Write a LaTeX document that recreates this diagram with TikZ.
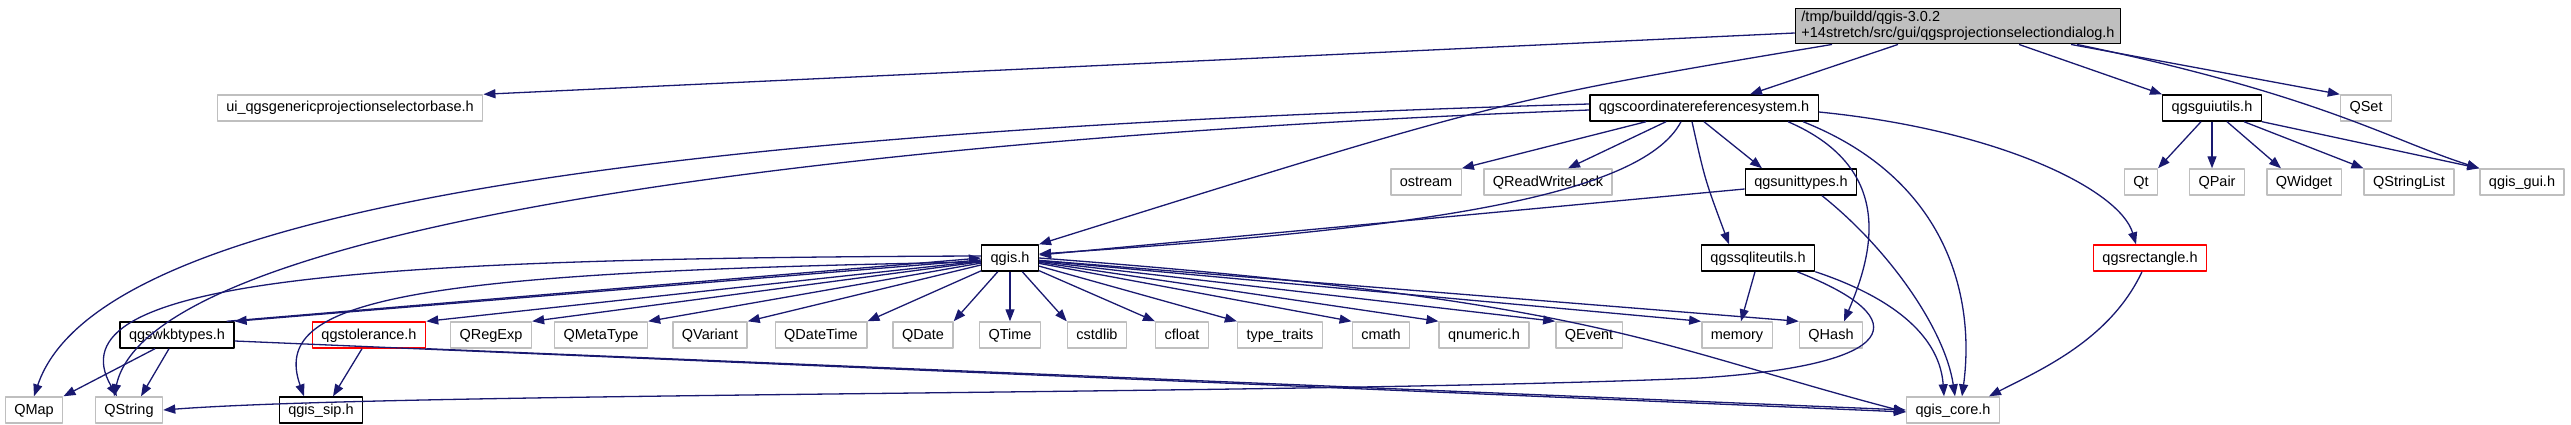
\documentclass[tikz,border=0pt]{standalone}
\usepackage{fontspec}
\setmainfont{Liberation Sans}
\usetikzlibrary{arrows.meta}
\definecolor{edgeblue}{RGB}{25,25,112}
\definecolor{boxgray}{RGB}{191,191,191}

\begin{document}
\begin{tikzpicture}[x=1pt,y=-1pt,line join=round,
  every node/.style={font=\fontsize{14.5}{16}\selectfont,line width=1.4pt},
  box/.style={fill=white,inner sep=0pt,inner xsep=9pt,minimum height=26pt,
    text height=11pt,text depth=3pt},
  hdr/.style={box,draw=boxgray},
  doc/.style={box,draw=black},
  miss/.style={box,draw=red},
  root/.style={draw=black,fill=boxgray,align=left,inner xsep=6pt,inner ysep=3pt},
  dep/.style={draw=edgeblue,line width=1.3pt,-{Triangle[length=12pt,width=9pt]}}]
  % include graph, positions taken from the rendered doxygen output
  \useasboundingbox (0,0) rectangle (2571,425);
  \node[root] (root) at (1958,26) {/tmp/buildd/qgis-3.0.2\\+14stretch/src/gui/qgsprojectionselectiondialog.h};
  \node[hdr] (ui) at (350,108) {ui\_qgsgenericprojectionselectorbase.h};
  \node[doc] (crs) at (1704,108) {qgscoordinatereferencesystem.h};
  \node[doc] (guiutils) at (2212,108) {qgsguiutils.h};
  \node[hdr] (qset) at (2366,108) {QSet};
  \node[hdr] (ostream) at (1426,182) {ostream};
  \node[hdr] (qrwlock) at (1548,182) {QReadWriteLock};
  \node[doc] (unittypes) at (1801,182) {qgsunittypes.h};
  \node[hdr] (qt) at (2141,182) {Qt};
  \node[hdr] (qpair) at (2217,182) {QPair};
  \node[hdr] (qwidget) at (2304,182) {QWidget};
  \node[hdr] (qstrlist) at (2409,182) {QStringList};
  \node[hdr] (qgisgui) at (2522,182) {qgis\_gui.h};
  \node[doc] (qgis) at (1010,258) {qgis.h};
  \node[doc] (sqlite) at (1758,258) {qgssqliteutils.h};
  \node[miss] (rect) at (2150,258) {qgsrectangle.h};
  \node[doc] (wkbtypes) at (177,335) {qgswkbtypes.h};
  \node[miss] (tolerance) at (369,335) {qgstolerance.h};
  \node[hdr] (qregexp) at (491,335) {QRegExp};
  \node[hdr] (qmetatype) at (601,335) {QMetaType};
  \node[hdr] (qvariant) at (710,335) {QVariant};
  \node[hdr] (qdatetime) at (821,335) {QDateTime};
  \node[hdr] (qdate) at (923,335) {QDate};
  \node[hdr] (qtime) at (1010,335) {QTime};
  \node[hdr] (cstdlib) at (1097,335) {cstdlib};
  \node[hdr] (cfloat) at (1182,335) {cfloat};
  \node[hdr] (typetraits) at (1280,335) {type\_traits};
  \node[hdr] (cmath) at (1381,335) {cmath};
  \node[hdr] (qnumeric) at (1484,335) {qnumeric.h};
  \node[hdr] (qevent) at (1589,335) {QEvent};
  \node[hdr] (memory) at (1737,335) {memory};
  \node[hdr] (qhash) at (1831,335) {QHash};
  \node[hdr] (qmap) at (34,410) {QMap};
  \node[hdr] (qstring) at (129,410) {QString};
  \node[doc] (qgissip) at (321,410) {qgis\_sip.h};
  \node[hdr] (qgiscore) at (1953,410) {qgis\_core.h};

  \draw[dep] ([yshift=-7pt]root.west) -- (ui.north east);
  \draw[dep] ([xshift=-126pt]root.south) .. controls (1500,100) .. (qgis.north east);
  \draw[dep] ([xshift=-60pt]root.south) -- ([xshift=46pt]crs.north);
  \draw[dep] ([xshift=61pt]root.south) -- (guiutils.north west);
  \draw[dep] ([xshift=113pt]root.south) -- (qset.north west);
  \draw[dep] ([xshift=119pt]root.south) .. controls (2320,95) and (2390,140) .. (qgisgui.north west);

  \draw[dep] ([yshift=4pt]crs.west) .. controls (700,130) and (100,200) .. (qmap.north);
  \draw[dep] ([yshift=-2pt]crs.west) .. controls (800,140) and (150,230) .. ([xshift=-15pt]qstring.north);
  \draw[dep] ([xshift=-23pt]crs.south) .. controls (1640,200) and (1400,230) .. ([yshift=4pt]qgis.east);
  \draw[dep] ([xshift=-58pt]crs.south) -- (ostream.north east);
  \draw[dep] ([xshift=-38pt]crs.south) -- ([xshift=20pt]qrwlock.north);
  \draw[dep] (crs.south) -- ([xshift=-39pt]unittypes.north);
  \draw[dep] ([xshift=-12pt]crs.south) .. controls (1705,180) .. ([xshift=-29pt]sqlite.north);
  \draw[dep] ([xshift=84pt]crs.south) .. controls (1900,170) and (1870,260) .. ([xshift=13pt]qhash.north);
  \draw[dep] ([xshift=99pt]crs.south) .. controls (1950,180) and (1975,300) .. ([xshift=9pt]qgiscore.north);
  \draw[dep] ([yshift=-4pt]crs.east) .. controls (2000,130) and (2120,190) .. ([xshift=-14pt]rect.north);

  \draw[dep] ([yshift=-7pt]unittypes.west) -- ([yshift=3pt]qgis.east);
  \draw[dep] ([xshift=21pt]unittypes.south) .. controls (1890,250) and (1945,330) .. ([xshift=2pt]qgiscore.north);

  \foreach \t/\a in {tolerance/north east,qregexp/north east,qmetatype/north east,
      qvariant/north east,qdatetime/north east,qdate/north east,qtime/north,
      cstdlib/north west,cfloat/north west,typetraits/north west,cmath/north west,
      qnumeric/north west,qevent/north west,memory/north west,qhash/north west}
    \draw[dep] (qgis) -- (\t.\a);
  \draw[dep] ([yshift=-2pt]qgis.west) -- (wkbtypes.north east);
  \draw[dep] ([xshift=-8pt]wkbtypes.north east) -- (qgis.west);
  \draw[dep] ([yshift=2pt]qgis.west) .. controls (350,258) and (50,280) .. ([xshift=-12pt]qstring.north);
  \draw[dep] ([yshift=-4pt]qgis.west) .. controls (400,272) and (270,300) .. ([xshift=-17pt]qgissip.north);
  \draw[dep] (qgis.east) .. controls (1600,300) and (1650,345) .. ([yshift=-2pt]qgiscore.west);

  \draw[dep] ([xshift=-22pt]wkbtypes.south) -- (qmap.north east);
  \draw[dep] ([xshift=-8pt]wkbtypes.south) -- ([xshift=12pt]qstring.north);
  \draw[dep] ([yshift=-6pt]wkbtypes.east) -- ([yshift=-2pt]qgiscore.west);
  \draw[dep] ([xshift=-7pt]tolerance.south) -- ([xshift=12pt]qgissip.north);
  \draw[dep] (tolerance.south east) -- (qgiscore.west);

  \draw[dep] ([xshift=-3pt]sqlite.south) -- ([xshift=4pt]memory.north);
  \draw[dep] (sqlite.south east) .. controls (1900,300) and (1940,340) .. ([xshift=-9pt]qgiscore.north);
  \draw[dep] ([xshift=39pt]sqlite.south) .. controls (1920,320) and (1900,365) .. (1700,378)
    .. controls (1300,395) and (400,392) .. (qstring.east);
  \draw[dep] ([xshift=-8pt]rect.south) .. controls (2110,340) and (2040,370) .. ([xshift=36pt]qgiscore.north);

  \draw[dep] ([xshift=-11pt]guiutils.south) -- ([xshift=17pt]qt.north);
  \draw[dep] (guiutils.south) -- ([xshift=-5pt]qpair.north);
  \draw[dep] ([xshift=15pt]guiutils.south) -- ([xshift=-23pt]qwidget.north);
  \draw[dep] ([xshift=32pt]guiutils.south) -- (qstrlist.north west);
  \draw[dep] (guiutils.south east) -- (qgisgui.north west);
\end{tikzpicture}
\end{document}
